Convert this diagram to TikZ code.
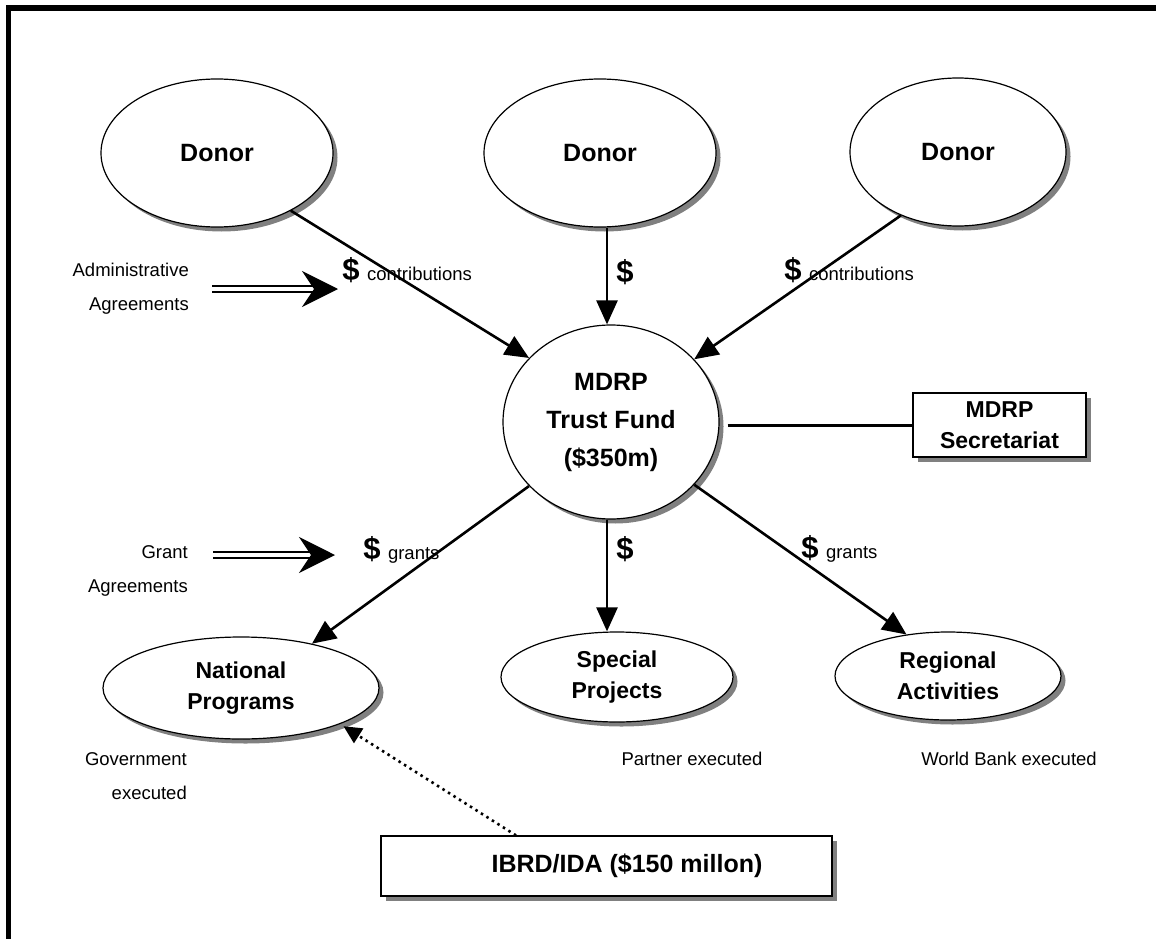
\documentclass[tikz,border=0pt]{standalone}
\usepackage{fontspec}
\setmainfont{Liberation Sans}
\usepackage{tikz}
\usetikzlibrary{arrows.meta}
\usetikzlibrary{shapes.geometric}
\usetikzlibrary{shadows}
\usetikzlibrary{positioning}
\tikzset{shade/.style = {drop shadow={shadow xshift=4.5pt, shadow yshift=-4.5pt, fill=black!50, opacity=1}},
         party/.style = {ellipse, draw, line width=1.2pt, fill=white, inner sep=0pt, align=center, shade},
         office/.style = {rectangle, draw, line width=1.2pt, fill=white, inner sep=0pt, align=center, shade},
         bigtext/.style = {font=\fontsize{25}{38}\selectfont\bfseries},
         midtext/.style = {font=\fontsize{23}{31}\selectfont\bfseries},
         remark/.style = {inner sep=0pt, font=\fontsize{18.5}{34}\selectfont},
         money/.style = {anchor=base, inner sep=0pt, font=\fontsize{31}{32}\selectfont\bfseries},
         flow/.style = {line width=2.6pt, -{Triangle[length=24pt, width=21pt]}},
         agree/.style = {double, double distance=4.5pt, line width=1.6pt,
                         -{Stealth[length=36pt, width=36pt, inset=12pt]}},
         hint/.style = {line width=2.6pt, dash pattern=on 2.5pt off 4pt,
                        -{Triangle[length=18pt, width=17pt]}}}
\begin{document}
\begin{tikzpicture}[x=1pt, y=-1pt]
      \useasboundingbox (0, 0) rectangle (1156, 939);
      \draw [line width=5.5pt] (8.5, 939) -- (8.5, 8) -- (1156, 8);
      \node [party, bigtext, minimum width=232pt, minimum height=148pt] (donorA) at (217, 153) {Donor};
      \node [party, bigtext, minimum width=232pt, minimum height=148pt] (donorB) at (600, 153) {Donor};
      \node [party, bigtext, minimum width=216pt, minimum height=148pt] (donorC) at (958, 152) {Donor};
      \node [party, bigtext, minimum width=216pt, minimum height=194pt] (fund) at (611, 422) {MDRP\\Trust Fund\\(\$350m)};
      \node [office, midtext, minimum width=173pt, minimum height=64pt] (secretariat) at (999.5, 425) {MDRP\\Secretariat};
      \node [party, midtext, minimum width=276pt, minimum height=102pt] (national) at (241, 688) {National\\Programs};
      \node [party, midtext, minimum width=232pt, minimum height=90pt] (special) at (617, 677) {Special\\Projects};
      \node [party, midtext, minimum width=226pt, minimum height=88pt] (regional) at (948, 676) {Regional\\Activities};
      \node [office, bigtext, minimum width=451pt, minimum height=60pt] (ibrd) at (606.5, 866) {\hspace*{41pt}IBRD/IDA (\$150 millon)};
      \draw [flow] (donorA.-38) -- (fund.142);
      \draw [flow] ([xshift=7pt]donorB.south) -- ([xshift=7pt]donorB.south |- fund.north);
      \draw [flow] (donorC.-132) -- (fund.37);
      \draw [flow] (fund.-142) -- (national.32);
      \draw [flow] ([xshift=-4pt]fund.south) -- ([xshift=-4pt]fund.south |- special.north);
      \draw [flow] (fund.-37) -- (regional.135);
      \draw [line width=3pt, shorten <=8pt] (fund.east |- secretariat.west) -- (secretariat.west);
      \draw [hint, shorten >=4pt] ([xshift=-90.5pt]ibrd.north) -- (national.-20);
      \node [money] (dolA) at (351, 280) {\$};
      \node [remark, right=7pt of dolA.base east, anchor=base west] {contributions};
      \node [money] (dolB) at (625, 282) {\$};
      \node [money] (dolC) at (793, 280) {\$};
      \node [remark, right=7pt of dolC.base east, anchor=base west] {contributions};
      \node [money] (dolD) at (372, 559) {\$};
      \node [remark, right=7pt of dolD.base east, anchor=base west] {grants};
      \node [money] (dolE) at (625, 559) {\$};
      \node [money] (dolF) at (810, 558) {\$};
      \node [remark, right=7pt of dolF.base east, anchor=base west] {grants};
      \node [remark, align=right, anchor=east] (admin) at (189, 289) {Administrative\\Agreements};
      \node [remark, align=right, anchor=east] (grant) at (188, 571) {Grant\\Agreements};
      \node [remark, align=right, anchor=east] (gov) at (187, 776) {Government\\executed};
      \node [remark] (partner) at (692, 759) {Partner executed};
      \node [remark] (bank) at (1009, 759) {World Bank executed};
      \coordinate (adminTail) at (212, 289);
      \coordinate (adminHead) at (338, 289);
      \coordinate (grantTail) at (213, 555);
      \coordinate (grantHead) at (335, 555);
      \draw [agree] (adminTail) -- (adminHead);
      \draw [agree] (grantTail) -- (grantHead);
    \end{tikzpicture}
\end{document}
